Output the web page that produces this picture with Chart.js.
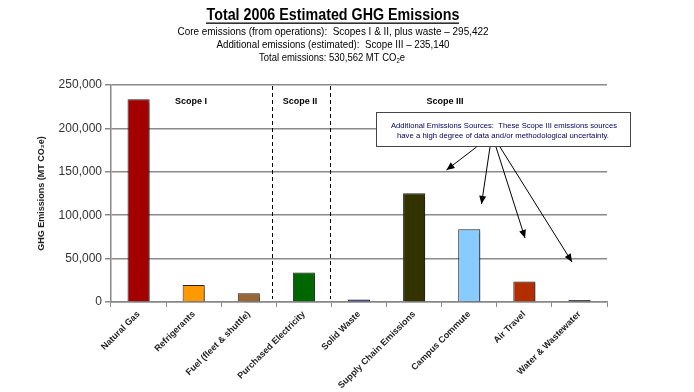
<!DOCTYPE html>
<html>
<head>
<meta charset="utf-8">
<script src="https://cdn.jsdelivr.net/npm/chart.js@4/dist/chart.umd.min.js"></script>
<style>
  html, body { margin: 0; padding: 0; background: #fff; }
</style>
</head>
<body>
<canvas id="myChart" width="694" height="392"></canvas>
<script>
// datos del grafico
const categories = ['Natural Gas', 'Refrigerants', 'Fuel (fleet & shuttle)', 'Purchased Electricity',
  'Solid Waste', 'Supply Chain Emissions', 'Campus Commute', 'Air Travel', 'Water & Wastewater'];
const emissions = [233500, 19500, 10000, 34000, 2800, 125400, 83900, 23600, 2300];
const barColors = ['#a50000', '#ff9900', '#996633', '#006600', '#1a1aa0', '#333300', '#88ccff', '#b22e00', '#333366'];
const yTicks = [0, 50000, 100000, 150000, 200000, 250000];

const titleText = 'Total 2006 Estimated GHG Emissions';
const subLines = [
  'Core emissions (from operations):  Scopes I & II, plus waste \u2013 295,422',
  'Additional emissions (estimated):  Scope III \u2013 235,140'
];
const scopeNames = ['Scope I', 'Scope II', 'Scope III'];
const noteLines = [
  'Additional Emissions Sources:  These Scope III emissions sources',
  'have a high degree of data and/or methodological uncertainty.'
];

const FONT = "'Liberation Sans', Arial, sans-serif";

// dibuja texto ajustado a un ancho
function drawRuns(ctx, runs, cx, baseline, width) {
  let total = 0;
  runs.forEach(r => { ctx.font = r.font; r.w = ctx.measureText(r.t).width; total += r.w; });
  const k = width / total;
  ctx.save();
  ctx.translate(cx - width / 2, baseline);
  ctx.scale(k, 1);
  let x = 0;
  ctx.textAlign = 'left';
  ctx.textBaseline = 'alphabetic';
  runs.forEach(r => { ctx.font = r.font; ctx.fillText(r.t, x, r.dy || 0); x += r.w; });
  ctx.restore();
}

function arrow(ctx, x1, y1, x2, y2) {
  ctx.beginPath();
  ctx.moveTo(x1, y1);
  ctx.lineTo(x2, y2);
  ctx.stroke();
  const a = Math.atan2(y2 - y1, x2 - x1);
  const L = 8, W = 3.5;
  ctx.beginPath();
  ctx.moveTo(x2, y2);
  ctx.lineTo(x2 - L * Math.cos(a) + W * Math.sin(a), y2 - L * Math.sin(a) - W * Math.cos(a));
  ctx.lineTo(x2 - L * Math.cos(a) - W * Math.sin(a), y2 - L * Math.sin(a) + W * Math.cos(a));
  ctx.closePath();
  ctx.fill();
}

const shadowPlugin = {
  id: 'barShadow',
  beforeDatasetsDraw(chart) {
    const ctx = chart.ctx;
    ctx.save();
    ctx.shadowColor = 'rgba(0,0,0,0.45)';
    ctx.shadowOffsetX = 2.5;
    ctx.shadowOffsetY = 1;
    ctx.shadowBlur = 1;
  },
  afterDatasetsDraw(chart) {
    chart.ctx.restore();
  }
};

const extras = {
  id: 'extras',
  afterDraw(chart) {
    const ctx = chart.ctx;
    const area = chart.chartArea;
    ctx.save();
    ctx.fillStyle = '#000';

    // titulo
    drawRuns(ctx, [{ t: titleText, font: 'bold 16px ' + FONT }], 333, 20, 253);
    ctx.fillStyle = '#000';
    ctx.fillRect(206, 22.5, 253, 1.3);
    drawRuns(ctx, [{ t: subLines[0], font: '11px ' + FONT }], 333, 35, 311);
    drawRuns(ctx, [{ t: subLines[1], font: '11px ' + FONT }], 333, 48, 233);
    drawRuns(ctx, [
      { t: 'Total emissions: 530,562 MT CO', font: '11px ' + FONT },
      { t: '2', font: '7px ' + FONT, dy: 2 },
      { t: 'e', font: '11px ' + FONT }
    ], 332, 61, 146);

    // lineas punteadas entre scopes
    const x = chart.scales.x;
    ctx.strokeStyle = '#000';
    ctx.lineWidth = 1;
    ctx.setLineDash([4, 3]);
    [(x.getPixelForValue(2) + x.getPixelForValue(3)) / 2 - 4,
     (x.getPixelForValue(3) + x.getPixelForValue(4)) / 2 - 1].forEach(px => {
      ctx.beginPath();
      ctx.moveTo(Math.round(px) + 0.5, area.top + 1);
      ctx.lineTo(Math.round(px) + 0.5, area.bottom - 3);
      ctx.stroke();
    });
    ctx.setLineDash([]);

    ctx.font = 'bold 9px ' + FONT;
    ctx.textAlign = 'center';
    ctx.textBaseline = 'alphabetic';
    ctx.fillText(scopeNames[0], 191, 104);
    ctx.fillText(scopeNames[1], 300, 104);
    ctx.fillText(scopeNames[2], 445, 104);

    // caja de nota
    ctx.fillStyle = '#fff';
    ctx.fillRect(376.5, 112.5, 254, 34);
    ctx.strokeStyle = '#444';
    ctx.strokeRect(376.5, 112.5, 254, 34);
    ctx.fillStyle = '#000060';
    drawRuns(ctx, [{ t: noteLines[0], font: '8px ' + FONT }], 504, 128, 226);
    drawRuns(ctx, [{ t: noteLines[1], font: '8px ' + FONT }], 503, 138, 212);

    // flechas
    ctx.strokeStyle = '#000';
    ctx.fillStyle = '#000';
    ctx.lineWidth = 1;
    arrow(ctx, 476.5, 147, 446.5, 170);
    arrow(ctx, 490, 147, 481.5, 204);
    arrow(ctx, 496, 147, 525, 238);
    arrow(ctx, 500, 147, 572, 262);
    ctx.restore();
  }
};

const ctx = document.getElementById('myChart');

new Chart(ctx, {
  type: 'bar',
  data: {
    labels: categories,
    datasets: [{
      data: emissions,
      backgroundColor: barColors,
      borderColor: '#222',
      borderWidth: 1,
      barPercentage: 0.4,
      categoryPercentage: 1
    }]
  },
  options: {
    responsive: false,
    animation: false,
    layout: { padding: { top: 85, left: 30, right: 87, bottom: 0 } },
    plugins: { legend: { display: false }, tooltip: { enabled: false } },
    scales: {
      x: {
        grid: { drawOnChartArea: false, offset: true, tickLength: 5, color: '#888' },
        border: { color: '#888', width: 1.5 },
        ticks: {
          minRotation: 45, maxRotation: 45, padding: 2,
          color: '#222',
          font: { family: FONT, size: 9, weight: 'bold' }
        },
        afterFit: s => { s.height = 90; }
      },
      y: {
        min: 0,
        max: 250000,
        afterBuildTicks: s => { s.ticks = yTicks.map(v => ({ value: v })); },
        ticks: {
          padding: 3,
          color: '#333',
          font: { family: FONT, size: 12 },
          callback: v => v.toLocaleString('en-US')
        },
        grid: { color: '#8a8a8a', lineWidth: 1.5, tickLength: 6 },
        border: { color: '#888', width: 1.5 },
        title: {
          display: true,
          text: 'GHG Emissions (MT CO\u2082e)',
          color: '#222',
          font: { family: FONT, size: 9, weight: 'bold' },
          padding: { top: 6, bottom: 0 }
        },
        afterFit: s => { s.width = 81; }
      }
    }
  },
  plugins: [shadowPlugin, extras]
});
</script>
</body>
</html>
